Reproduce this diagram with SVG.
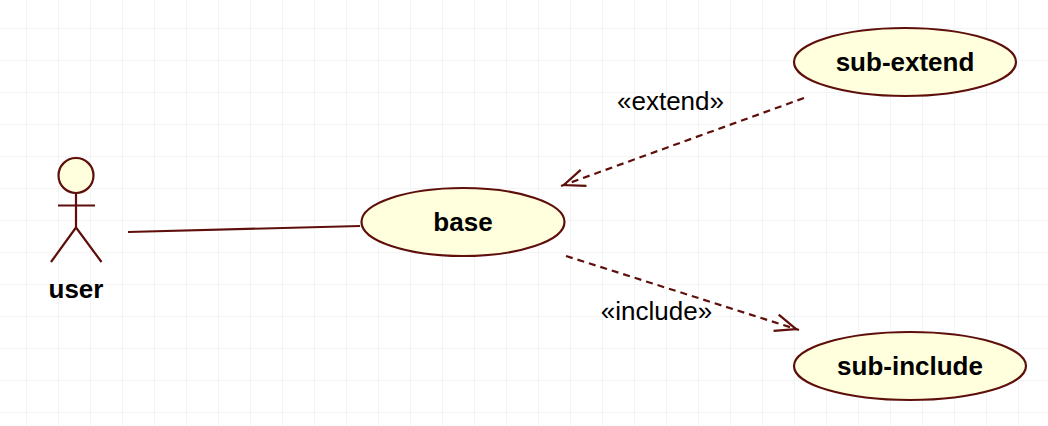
<svg xmlns="http://www.w3.org/2000/svg" width="1048" height="426" viewBox="0 0 1048 426">
<defs>
<pattern id="grid" width="32" height="32" patternUnits="userSpaceOnUse" x="26" y="28">
<path d="M0.5 0V32M0 0.5H32" fill="none" stroke="#f4f4f4" stroke-width="1"/>
</pattern>
<marker id="open" markerUnits="userSpaceOnUse" markerWidth="30" markerHeight="22" refX="26" refY="11" orient="auto" viewBox="0 0 30 22">
<path d="M2 2.500L23 11L2 19.500" fill="none" stroke="#5e0f0b" stroke-width="2.200"/>
</marker>
<style>
.shape{fill:#ffffdd;stroke:#5e0f0b;stroke-width:2.200}
.line{fill:none;stroke:#5e0f0b;stroke-width:2.200}
.dash{stroke-dasharray:7 5}
.name{font:bold 26px "Liberation Sans",Arial,sans-serif;fill:#000;text-anchor:middle}
.label{font:26px "Liberation Sans",Arial,sans-serif;fill:#000;text-anchor:middle}
</style>
</defs>
<rect width="1048" height="426" fill="#fff"/>
<rect width="1048" height="426" fill="url(#grid)"/>
<g id="connectors">
<path class="line" d="M128 232L360 226"/>
<path class="line dash" d="M804 98L561 186" marker-end="url(#open)"/>
<path class="line dash" d="M566 256L799 330" marker-end="url(#open)"/>
<text class="label" x="670.500" y="110">«extend»</text>
<text class="label" x="656.500" y="320">«include»</text>
</g>
<g id="user">
<circle class="shape" cx="76" cy="175.500" r="17.500"/>
<path class="line" d="M76 193V227.500M58 205.500H95M76 227.500L51 262M76 227.500L101.500 262"/>
<text class="name" x="76" y="298">user</text>
</g>
<g id="base">
<ellipse class="shape" cx="463" cy="222" rx="101.500" ry="34"/>
<text class="name" x="463" y="231">base</text>
</g>
<g id="sub-extend">
<ellipse class="shape" cx="905" cy="62" rx="111" ry="34"/>
<text class="name" x="905" y="71">sub-extend</text>
</g>
<g id="sub-include">
<ellipse class="shape" cx="910" cy="366" rx="116" ry="34"/>
<text class="name" x="910" y="375">sub-include</text>
</g>
</svg>
